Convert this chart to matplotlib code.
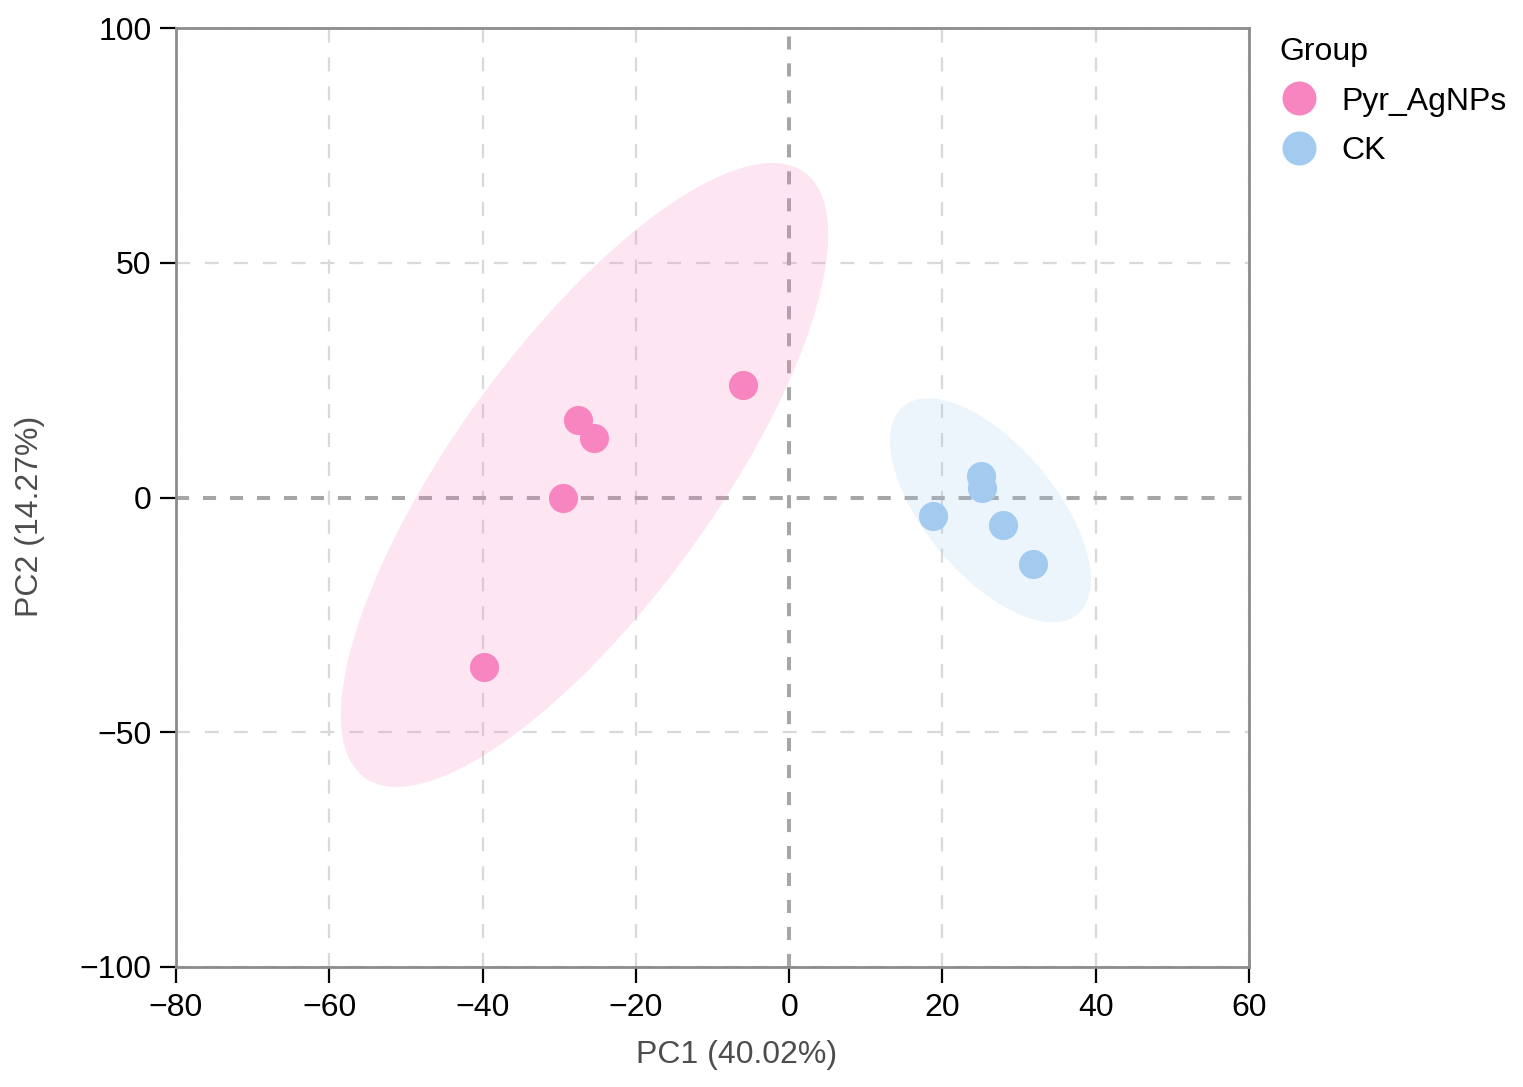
import numpy as np
import matplotlib
matplotlib.use("Agg")
import matplotlib.pyplot as plt
from matplotlib.lines import Line2D

plt.rcParams['font.family'] = ['Liberation Sans', 'DejaVu Sans']

# ---- data ----
groups = ["Pyr_AgNPs", "CK"]
pyr_pc1 = [-39.8, -29.45, -27.5, -25.5, -5.96]
pyr_pc2 = [-36.2, -0.17, 16.5, 12.6, 23.96]
ck_pc1 = [18.83, 25.0, 25.14, 27.84, 31.88]
ck_pc2 = [-3.94, 4.58, 2.09, -5.86, -14.16]

# ellipse (confidence region): centre and shape matrix
pyr_ell_center = [-26.7, 4.8]
pyr_ell_shape = [[1011.0, 1628.0], [1628.0, 4416.0]]
ck_ell_center = [26.27, -2.72]
ck_ell_shape = [[171.6, -194.0], [-194.0, 568.8]]

colors = {"Pyr_AgNPs": "#F786C0", "CK": "#A3CBF0"}

xticks = [-80, -60, -40, -20, 0, 20, 40, 60]
yticks = [-100, -50, 0, 50, 100]

FS = 23

fig = plt.figure(figsize=(15.23, 10.87), dpi=100)
ax = fig.add_axes([176/1523, 1-967/1087, (1249-176)/1523, (967-28)/1087])

ax.set_xlim(-80, 60)
ax.set_ylim(-100, 100)

# grid lines
grid_dash = (0, (6.3, 6.7))
for xv in xticks:
    if xv == 0:
        continue
    ax.axvline(xv, color="#d9d9d9", lw=1.6, ls=grid_dash, zorder=0)
for yv in yticks:
    if yv == 0:
        continue
    ax.axhline(yv, color="#d9d9d9", lw=1.6, ls=grid_dash, zorder=0)
zero_dash = (0, (3.25, 3.45))
ax.axvline(0, color="#a6a6a6", lw=2.9, ls=zero_dash, zorder=0.5)
ax.axhline(0, color="#a6a6a6", lw=2.9, ls=zero_dash, zorder=0.5)

def draw_ellipse(center, shape, color):
    L = np.linalg.cholesky(np.array(shape))
    t = np.linspace(0, 2*np.pi, 300)
    circ = np.vstack([np.cos(t), np.sin(t)])
    pts = L @ circ
    ax.fill(center[0] + pts[0], center[1] + pts[1], color=color, alpha=0.2,
            lw=0, zorder=1)

draw_ellipse(pyr_ell_center, pyr_ell_shape, colors["Pyr_AgNPs"])
draw_ellipse(ck_ell_center, ck_ell_shape, colors["CK"])

ax.scatter(pyr_pc1, pyr_pc2, s=440, color=colors["Pyr_AgNPs"], lw=0, zorder=3)
ax.scatter(ck_pc1, ck_pc2, s=440, color=colors["CK"], lw=0, zorder=3)

ax.set_xticks(xticks)
ax.set_yticks(yticks)
ax.set_xticklabels([str(v).replace("-", "\u2212") for v in xticks])
ax.set_yticklabels([str(v).replace("-", "\u2212") for v in yticks])
ax.tick_params(axis="both", direction="out", length=11.5, width=1.6, color="black",
               labelsize=FS, labelcolor="black")
ax.tick_params(axis="y", pad=6)
ax.tick_params(axis="x", pad=7)

for sp in ax.spines.values():
    sp.set_color("#8c8c8c")
    sp.set_linewidth(2)

ax.set_xlabel("PC1 (40.02%)", fontsize=FS, color="#4d4d4d")
ax.set_ylabel("PC2 (14.27%)", fontsize=FS, color="#4d4d4d")
ax.xaxis.set_label_coords(0.522, -0.078)
ax.yaxis.set_label_coords(-0.122, 0.48)

handles = [Line2D([], [], marker="o", ls="", markersize=24.5, markeredgewidth=0,
                  color=colors[g]) for g in groups]
leg = fig.legend(handles, groups, title="Group", loc="upper left",
                 bbox_to_anchor=(1267/1523, 1-24/1087), frameon=False,
                 fontsize=FS, title_fontsize=FS, handletextpad=0.72,
                 labelspacing=0.62, borderaxespad=0, handlelength=1.2)
leg._legend_box.align = "left"

fig.savefig("out.png", dpi=100)
